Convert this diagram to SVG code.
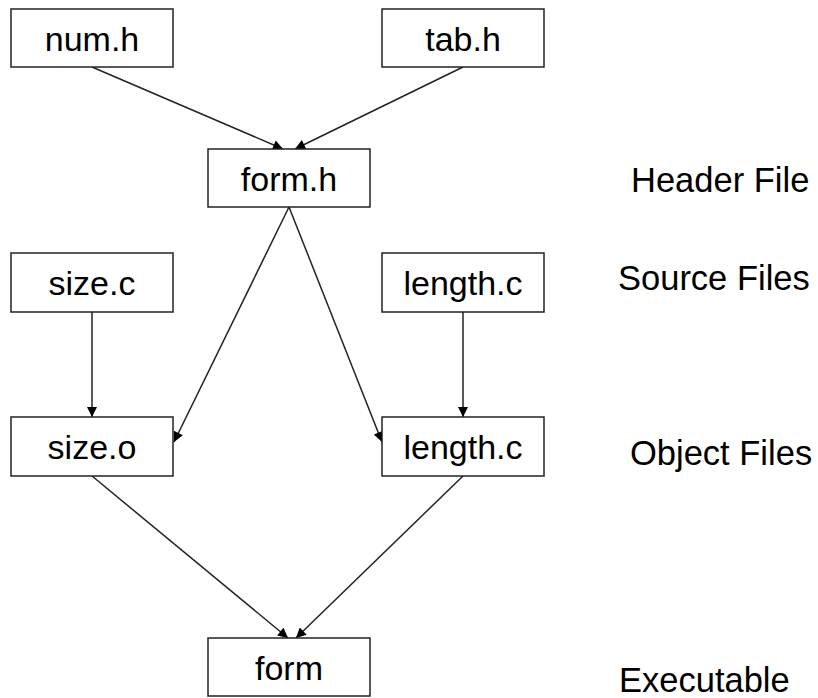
<svg xmlns="http://www.w3.org/2000/svg" width="818" height="698" viewBox="0 0 818 698">
<defs>
<marker id="ah" viewBox="0 0 10 10" refX="10" refY="5" markerWidth="12" markerHeight="10" markerUnits="userSpaceOnUse" orient="auto">
<path d="M0,0 L10,5 L0,10 z" fill="#000"/>
</marker>
<style>
.box{fill:#fff;stroke:#222;stroke-width:1.5}
.t{font-family:"Liberation Sans",Arial,sans-serif;font-size:34px;fill:#000;text-anchor:middle}
.lbl{font-family:"Liberation Sans",Arial,sans-serif;font-size:34.5px;fill:#000}
.c{stroke:#222;stroke-width:1.5;fill:none;marker-end:url(#ah)}
</style>
</defs>
<rect width="818" height="698" fill="#fff"/>
<g id="connectors">
<line class="c" x1="92" y1="67" x2="283" y2="149"/>
<line class="c" x1="463" y1="67" x2="295" y2="149"/>
<line class="c" x1="289" y1="207" x2="174" y2="442"/>
<line class="c" x1="289" y1="207" x2="382" y2="442"/>
<line class="c" x1="92" y1="312" x2="92" y2="417"/>
<line class="c" x1="463" y1="312" x2="463" y2="417"/>
<line class="c" x1="92" y1="476" x2="288" y2="638"/>
<line class="c" x1="463" y1="476" x2="296" y2="638"/>
</g>
<g id="num_h"><rect class="box" x="11" y="9" width="162" height="58"/><text class="t" x="92" y="51">num.h</text></g>
<g id="tab_h"><rect class="box" x="382" y="9" width="162" height="58"/><text class="t" x="463" y="51">tab.h</text></g>
<g id="form_h"><rect class="box" x="208" y="149" width="162" height="58"/><text class="t" x="289" y="191">form.h</text></g>
<g id="size_c"><rect class="box" x="11" y="253" width="162" height="59"/><text class="t" x="92" y="295">size.c</text></g>
<g id="length_c"><rect class="box" x="382" y="253" width="162" height="59"/><text class="t" x="463" y="295">length.c</text></g>
<g id="size_o"><rect class="box" x="11" y="417" width="162" height="59"/><text class="t" x="92" y="459">size.o</text></g>
<g id="length_o"><rect class="box" x="382" y="417" width="162" height="59"/><text class="t" x="463" y="459">length.c</text></g>
<g id="form"><rect class="box" x="208" y="638" width="162" height="58"/><text class="t" x="289" y="680">form</text></g>
<g id="labels">
<text class="lbl" x="631" y="192">Header File</text>
<text class="lbl" x="618" y="290">Source Files</text>
<text class="lbl" x="630" y="465">Object Files</text>
<text class="lbl" x="619" y="692">Executable</text>
</g>
</svg>
